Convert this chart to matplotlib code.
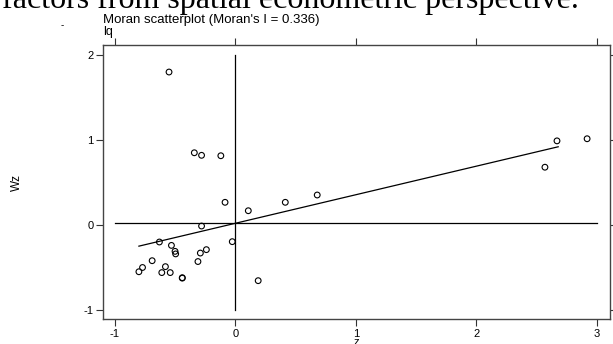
import matplotlib.pyplot as plt

# Moran scatterplot values.
z = [-0.55, -0.34, -0.28, -0.12, -0.085, 0.415, 0.68, 0.108,
     -0.28, -0.63, -0.53, -0.50, -0.495, -0.29, -0.24, -0.025,
     -0.31, -0.69, -0.77, -0.80, -0.58, -0.61, -0.54, -0.44, -0.44,
     0.19, 2.67, 2.92, 2.57]
wz = [1.80, 0.85, 0.82, 0.815, 0.267, 0.267, 0.353, 0.168,
      -0.012, -0.20, -0.24, -0.31, -0.34, -0.33, -0.29, -0.196,
      -0.43, -0.42, -0.50, -0.55, -0.49, -0.56, -0.56, -0.62, -0.625,
      -0.655, 0.99, 1.015, 0.68]

moran_i = 0.336
intercept = 0.02
fit_x = [-0.80, 2.68]
mean_wz = 0.02

xticks = [-1, 0, 1, 2, 3]
yticks = [-1, 0, 1, 2]

plt.rcParams['font.family'] = ['Liberation Sans', 'DejaVu Sans']
plt.rcParams['axes.unicode_minus'] = False

fig = plt.figure(figsize=(6.13, 3.44), dpi=100)
ax = fig.add_axes([103 / 613, 25 / 344, 507 / 613, 274 / 344])

ax.scatter(z, wz, s=17, facecolors='none', edgecolors='black', linewidths=0.8, zorder=3)
ax.plot([0, 0], [-1, 2], color='black', lw=0.9)
ax.plot([-1, 3], [mean_wz, mean_wz], color='black', lw=0.9)
ax.plot(fit_x, [intercept + moran_i * v for v in fit_x], color='black', lw=0.9)

ax.set_xlim(-1.098, 3.11)
ax.set_ylim(-1.106, 2.118)
ax.set_xticks(xticks)
ax.set_yticks(yticks)
ax.tick_params(direction='out', length=5, width=0.8, labelsize=8,
               top=True, right=True, color='#333333', pad=2)
for s in ax.spines.values():
    s.set_color('#444444')
    s.set_linewidth(1.0)

ax.set_xlabel('z', fontsize=8, labelpad=-1)
fig.text(17 / 613, 1 - 182 / 344, 'Wz', rotation=90, fontsize=8.5,
         ha='center', va='center')

fig.text(103 / 613, 1 - 20 / 344, "Moran scatterplot (Moran's I = 0.336)", fontsize=9.5,
         ha='left', va='center')
fig.text(103 / 613, 1 - 32 / 344, 'lq', fontsize=9, ha='left', va='center')
fig.text(62 / 613, 1 - 25 / 344, '-', fontsize=7, ha='center', va='center')

# Document text cut at the top of the crop.
fig.text(2 / 613, 1 - 8 / 344, 'factors from spatial econometric perspective.',
         family='Liberation Serif', fontsize=23, ha='left', va='baseline')

fig.savefig('out.png', dpi=100)
